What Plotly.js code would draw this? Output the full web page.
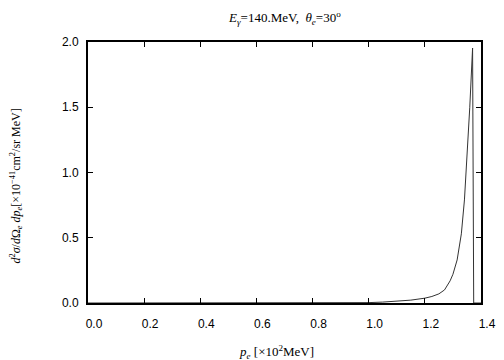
<!DOCTYPE html>
<html>
<head>
<meta charset="utf-8">
<script src="https://cdn.plot.ly/plotly-3.0.1.min.js"></script>
<style>html,body{margin:0;padding:0;background:#fff;}</style>
</head>
<body>
<div id="chart" style="width:504px;height:360px;"></div>
<script>
// momentum p_e [x10^2 MeV]
const pe = [0.0, 0.5, 0.9, 1.0, 1.05, 1.1, 1.15, 1.2, 1.225, 1.25, 1.27, 1.29, 1.30, 1.315, 1.33, 1.341, 1.35, 1.36, 1.370, 1.374, 1.40];
// cross section d2sigma/dOmega dp [x10^-41 cm2/sr MeV]
const xsec = [0.0, 0.0, 0.0, 0.003, 0.007, 0.013, 0.022, 0.037, 0.05, 0.07, 0.10, 0.17, 0.22, 0.33, 0.53, 0.79, 1.10, 1.50, 1.954, 0.0, 0.0];
const xTicks = [0.0, 0.2, 0.4, 0.6, 0.8, 1.0, 1.2, 1.4];
const xTickText = ["0.0", "0.2", "0.4", "0.6", "0.8", "1.0", "1.2", "1.4"];
const yTicks = [0.0, 0.5, 1.0, 1.5, 2.0];
const yTickText = ["0.0", "0.5", "1.0", "1.5", "2.0"];

const serif = "Liberation Serif, Times New Roman, serif";
const sans = "Liberation Sans, Arial, sans-serif";

const axisCommon = {
  showgrid: false, zeroline: false, showline: true, mirror: 'ticks',
  linecolor: '#000', linewidth: 2, ticks: 'inside', ticklen: 5, tickwidth: 1,
  tickcolor: '#000', tickfont: {family: sans, size: 12, color: '#000'}
};

const data = [{
  x: pe, y: xsec, mode: 'lines', type: 'scatter',
  line: {color: '#333', width: 1}, hoverinfo: 'none'
}];

const layout = {
  width: 504, height: 360,
  margin: {l: 88, r: 23, t: 42, b: 57},
  paper_bgcolor: '#fff', plot_bgcolor: '#fff',
  showlegend: false,
  xaxis: Object.assign({}, axisCommon, {
    range: [0, 1.4], tickvals: xTicks, ticktext: xTickText,
    ticklabelshift: 6, ticklabelstandoff: 9
  }),
  yaxis: Object.assign({}, axisCommon, {
    range: [0, 2.0], tickvals: yTicks, ticktext: yTickText,
    ticklabelstandoff: 5
  }),
  annotations: [
    {text: "<i>E<sub>γ</sub></i>=140.MeV,  <i>θ<sub>e</sub></i>=30<sup>o</sup>",
     xref: 'paper', yref: 'paper', x: 0.5, y: 1, yshift: 24, showarrow: false,
     xanchor: 'center', yanchor: 'middle', font: {family: serif, size: 13, color: '#000'}},
    {text: "<i>p<sub>e</sub></i> [×10<sup>2</sup>MeV]",
     xref: 'paper', yref: 'paper', x: 0.5, y: 0, xshift: -8, yshift: -49, showarrow: false,
     xanchor: 'center', yanchor: 'middle', font: {family: serif, size: 13, color: '#000'}},
    {text: "<i>d</i><sup>2</sup><i>σ</i>/<i>d</i>Ω<sub><i>e</i></sub> <i>dp<sub>e</sub></i>[×10<sup>−41</sup>cm<sup>2</sup>/sr MeV]",
     xref: 'paper', yref: 'paper', x: 0, y: 0.5, xshift: -72, yshift: -14, textangle: -90, showarrow: false,
     xanchor: 'center', yanchor: 'middle', font: {family: serif, size: 12, color: '#000'}}
  ]
};

Plotly.newPlot('chart', data, layout, {staticPlot: true, displayModeBar: false});
</script>
</body>
</html>
